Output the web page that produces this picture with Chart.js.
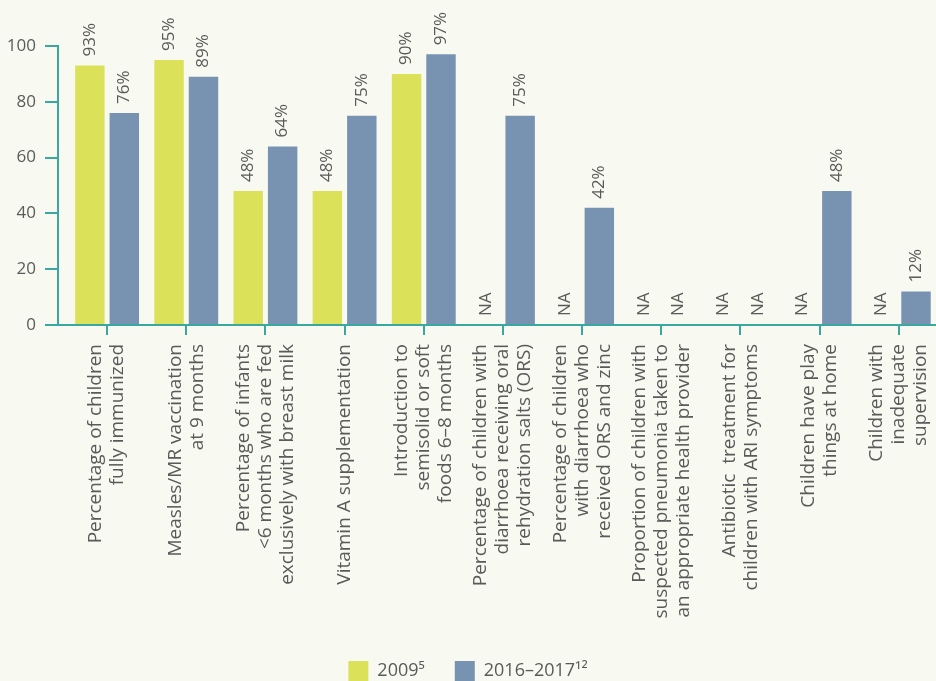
<!DOCTYPE html>
<html><head><meta charset="utf-8">
<script src="https://cdn.jsdelivr.net/npm/chart.js@4.4.1/dist/chart.umd.min.js"></script>
<style>
html,body{margin:0;padding:0;background:#f8faf1;}
#wrap{width:936px;height:681px;position:relative;}
canvas{display:block;}
</style></head><body>
<div id="wrap"><canvas id="c" width="936" height="681"></canvas></div>
<script>
const categories = [
  ["Percentage of children", "fully immunized"],
  ["Measles/MR vaccination", "at 9 months"],
  ["Percentage of infants", "<6 months who are fed", "exclusively with breast milk"],
  ["Vitamin A supplementation"],
  ["Introduction to", "semisolid or soft", "foods 6–8 months"],
  ["Percentage of children with", "diarrhoea receiving oral", "rehydration salts (ORS)"],
  ["Percentage of children", "with diarrhoea who", "received ORS and zinc"],
  ["Proportion of children with", "suspected pneumonia taken to", "an appropriate health provider"],
  ["Antibiotic  treatment for", "children with ARI symptoms"],
  ["Children have play", "things at home"],
  ["Children with", "inadequate", "supervision"]
];
const values2009 = [93, 95, 48, 48, 90, null, null, null, null, null, null];
const values2016 = [76, 89, 64, 75, 97, 75, 42, null, null, 48, 12];
const seriesNames = ["2009\u2075", "2016\u20132017\u00b9\u00b2"];
const yTickValues = [0, 20, 40, 60, 80, 100];

const TEAL = "#3aa89f";
const TEXT = "#5a5a5a";
const FONT = "'Open Sans', 'Noto Sans', sans-serif";
const missingLabel = "NA";

const toPoints = arr => arr.map((v, i) => ({ x: i, y: v }));

const labelShiftPlugin = {
  id: "labelShift",
  beforeDraw(chart) {
    const sc = chart.scales.x;
    if (!sc || !sc.getLabelItems) return;
    const items = sc.getLabelItems(chart.chartArea);
    items.forEach(it => {
      if (it.__shifted) return;
      const n = Array.isArray(it.label) ? it.label.length : 1;
      const lh = it.font.lineHeight;
      it.options.translation[0] -= (n - 1) / 2 * lh;
      it.__shifted = true;
    });
  }
};

const valueLabelPlugin = {
  id: "valueLabels",
  afterDatasetsDraw(chart) {
    const ctx = chart.ctx;
    const yScale = chart.scales.y;
    const xScale = chart.scales.x;
    chart.data.datasets.forEach((ds, di) => {
      const meta = chart.getDatasetMeta(di);
      meta.data.forEach((bar, i) => {
        const v = ds.data[i].y;
        let x = bar.x;
        if (!isFinite(x)) x = xScale.getPixelForValue(i);
        const y0 = (v == null) ? yScale.getPixelForValue(0) - 9 : bar.y - 9;
        ctx.save();
        ctx.translate(x, y0);
        ctx.rotate(-Math.PI / 2);
        ctx.font = "17px " + FONT;
        ctx.fillStyle = TEXT;
        ctx.textAlign = "left";
        ctx.textBaseline = "middle";
        ctx.fillText(v == null ? missingLabel : v + "%", 0, 0);
        ctx.restore();
      });
    });
  }
};

new Chart(document.getElementById("c"), {
  type: "bar",
  data: {
    datasets: [
      { label: seriesNames[0], data: toPoints(values2009), backgroundColor: "#dbe25a", borderWidth: 0 },
      { label: seriesNames[1], data: toPoints(values2016), backgroundColor: "#7893b2", borderWidth: 0 }
    ]
  },
  options: {
    responsive: false,
    animation: false,
    devicePixelRatio: 1,
    categoryPercentage: 0.87,
    barPercentage: 0.855,
    layout: { padding: { top: 46, left: 0, right: 0, bottom: -10 } },
    plugins: {
      tooltip: { enabled: false },
      legend: {
        position: "bottom",
        labels: {
          boxWidth: 20, boxHeight: 20, padding: 30,
          color: TEXT,
          font: { family: FONT, size: 18 }
        }
      }
    },
    scales: {
      x: {
        type: "linear",
        min: -0.62,
        max: 10.47,
        offset: false,
        border: { color: TEAL, width: 2 },
        grid: { offset: false, drawOnChartArea: false, drawTicks: true, tickLength: 10, color: TEAL, lineWidth: 2 },
        ticks: {
          stepSize: 1,
          includeBounds: false,
          autoSkip: false,
          minRotation: 90,
          maxRotation: 90,
          padding: 9,
          color: TEXT,
          font: { family: FONT, size: 19, lineHeight: 22 / 19 },
          callback: v => Number.isInteger(v) ? categories[v] : ""
        },
        afterBuildTicks: s => { s.min = -0.62; s.max = 10.47; },
        afterFit: s => { s.height = 306; s.paddingLeft = 0; s.paddingRight = 0; }
      },
      y: {
        min: 0,
        max: 100,
        border: { color: TEAL, width: 2 },
        grid: { drawOnChartArea: false, drawTicks: true, tickLength: 13, color: TEAL, lineWidth: 2 },
        ticks: {
          stepSize: 20,
          padding: 9,
          color: TEXT,
          font: { family: FONT, size: 17 }
        },
        afterBuildTicks: s => { s.ticks = yTickValues.map(v => ({ value: v })); },
        afterFit: s => { s.width = 58; s.paddingTop = 0; s.paddingBottom = 0; }
      }
    }
  },
  plugins: [labelShiftPlugin, valueLabelPlugin]
});
</script>
</body></html>
